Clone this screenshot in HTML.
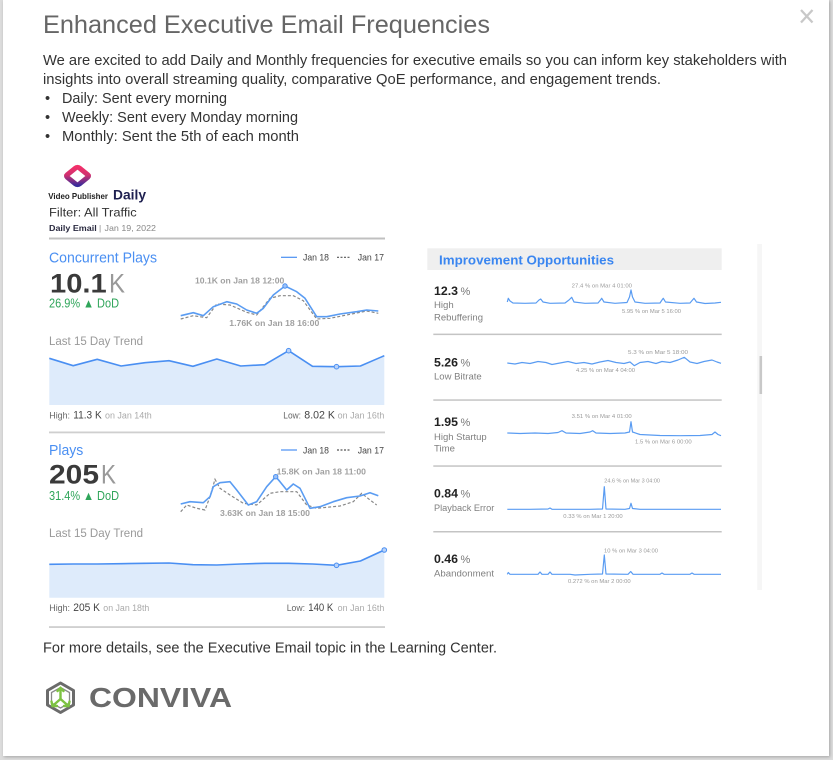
<!DOCTYPE html>
<html><head><meta charset="utf-8"><style>
html,body{margin:0;padding:0;background:#dcdcdc;}
body{width:833px;height:760px;overflow:hidden;position:relative;}
.modal{position:absolute;left:3px;top:0;width:826px;height:756px;background:#fff;box-shadow:1px 1px 3px rgba(0,0,0,0.25);}
svg{position:absolute;left:0;top:0;}
text{font-family:"Liberation Sans",sans-serif;}
</style></head><body>
<div class="modal"></div>
<svg width="833" height="760" viewBox="0 0 833 760" xmlns="http://www.w3.org/2000/svg">
<defs>
<linearGradient id="lg" x1="0" y1="0" x2="1" y2="1">
<stop offset="0" stop-color="#f4306a"/><stop offset="0.45" stop-color="#d0306f"/><stop offset="1" stop-color="#362c9c"/>
</linearGradient>
</defs>
<!-- close X -->
<line x1="801" y1="10" x2="812.5" y2="22.5" stroke="#c8c8c8" stroke-width="2.3"/>
<line x1="812.5" y1="10" x2="801" y2="22.5" stroke="#c8c8c8" stroke-width="2.3"/>

<!-- title / intro -->
<text x="43" y="33" font-size="25" fill="#666" textLength="447" lengthAdjust="spacingAndGlyphs">Enhanced Executive Email Frequencies</text>
<text x="43" y="65" font-size="14.6" fill="#333" textLength="744" lengthAdjust="spacingAndGlyphs">We are excited to add Daily and Monthly frequencies for executive emails so you can inform key stakeholders with</text>
<text x="43" y="84" font-size="14.6" fill="#333" textLength="618" lengthAdjust="spacingAndGlyphs">insights into overall streaming quality, comparative QoE performance, and engagement trends.</text>
<text x="45" y="103" font-size="14.6" fill="#333">•</text>
<text x="62" y="103" font-size="14.6" fill="#333" textLength="165" lengthAdjust="spacingAndGlyphs">Daily: Sent every morning</text>
<text x="45" y="122" font-size="14.6" fill="#333">•</text>
<text x="62" y="122" font-size="14.6" fill="#333" textLength="236" lengthAdjust="spacingAndGlyphs">Weekly: Sent every Monday morning</text>
<text x="45" y="141" font-size="14.6" fill="#333">•</text>
<text x="62" y="141" font-size="14.6" fill="#333" textLength="237" lengthAdjust="spacingAndGlyphs">Monthly: Sent the 5th of each month</text>

<!-- email header -->
<g transform="translate(77.5,176) scale(1,0.82) rotate(45)">
<rect x="-8.3" y="-8.3" width="16.6" height="16.6" rx="2.5" fill="#fff" stroke="url(#lg)" stroke-width="5.6"/>
</g>
<text x="48.3" y="199" font-size="8.5" font-weight="bold" fill="#222" textLength="59.7" lengthAdjust="spacingAndGlyphs">Video Publisher</text>
<text x="113" y="199.3" font-size="14" font-weight="bold" fill="#1e2050" textLength="33" lengthAdjust="spacingAndGlyphs">Daily</text>
<text x="49" y="216.7" font-size="12.3" fill="#333" textLength="87.7" lengthAdjust="spacingAndGlyphs">Filter: All Traffic</text>
<text x="49" y="231" font-size="8.5" font-weight="bold" fill="#2a2a40" textLength="47.7" lengthAdjust="spacingAndGlyphs">Daily Email</text>
<text x="99" y="231" font-size="8.5" fill="#888">|</text>
<text x="104.5" y="231" font-size="8.5" fill="#888" textLength="51.5" lengthAdjust="spacingAndGlyphs">Jan 19, 2022</text>
<rect x="49" y="237.5" width="336" height="2" fill="#c0c0c0"/>

<!-- Concurrent Plays -->
<text x="49" y="262.3" font-size="14.3" fill="#4a8ff2" textLength="108" lengthAdjust="spacingAndGlyphs">Concurrent Plays</text>
<line x1="281" y1="257.3" x2="297" y2="257.3" stroke="#4a8ff2" stroke-width="1.2"/>
<text x="303" y="260.6" font-size="9.3" fill="#444" textLength="26" lengthAdjust="spacingAndGlyphs">Jan 18</text>
<line x1="337" y1="257.3" x2="350" y2="257.3" stroke="#555" stroke-width="1.2" stroke-dasharray="2,1.5"/>
<text x="357.7" y="260.6" font-size="9.3" fill="#444" textLength="26.3" lengthAdjust="spacingAndGlyphs">Jan 17</text>
<text x="50" y="292.3" font-size="27" font-weight="bold" fill="#3a3a3a" textLength="56.7" lengthAdjust="spacingAndGlyphs">10.1</text>
<text x="109" y="292.3" font-size="27" fill="#999" textLength="16" lengthAdjust="spacingAndGlyphs">K</text>
<text x="49" y="307.7" font-size="12.5" fill="#2fa55a" textLength="70" lengthAdjust="spacingAndGlyphs">26.9% ▲ DoD</text>

<polyline fill="none" stroke="#888" stroke-width="1.2" stroke-dasharray="3,2" points="180.7,319 193.3,315.7 206.7,317.7 216.7,304 230,305 246.7,312.3 256.7,315 270,298.3 280,295.7 293.3,295.7 303.3,300.7 316.7,319 330,318.3 346.7,315 366.7,311 378.3,313.3"/>
<polyline fill="none" stroke="#5a9cf2" stroke-width="1.6" stroke-linejoin="round" points="180.7,315.7 193.3,312.7 203.3,315.7 213.3,306.7 226.7,301.7 236.7,304 246.7,310 256.7,313.3 263.3,308.3 273.3,295 285,286 296.7,291.7 305,298.3 316.7,316.7 326.7,316.7 340,314 356.7,311.7 366.7,310 378.3,311"/>
<circle cx="285" cy="286" r="2.2" fill="#9cc2f7" stroke="#4a8ff2" stroke-width="1"/>
<text x="195" y="283.6" font-size="8.5" font-weight="bold" fill="#a0a0a0" textLength="89.3" lengthAdjust="spacingAndGlyphs">10.1K on Jan 18 12:00</text>
<text x="229.3" y="326.2" font-size="8.5" font-weight="bold" fill="#a0a0a0" textLength="90" lengthAdjust="spacingAndGlyphs">1.76K on Jan 18 16:00</text>

<text x="49" y="345" font-size="12.3" fill="#999" textLength="94" lengthAdjust="spacingAndGlyphs">Last 15 Day Trend</text>
<path d="M49.3,358.3 L73.2,365.7 L97.2,359.3 L121.1,366 L145,362.7 L169,360.7 L192.9,366.3 L216.8,359 L240.7,366 L264.7,364.7 L288.6,350.7 L312.5,366.3 L336.5,366.7 L360.4,366 L384.3,355.7 L384.3,405 L49.3,405 Z" fill="#deebfb"/>
<polyline fill="none" stroke="#4a8ff2" stroke-width="1.6" stroke-linejoin="round" points="49.3,358.3 73.2,365.7 97.2,359.3 121.1,366 145,362.7 169,360.7 192.9,366.3 216.8,359 240.7,366 264.7,364.7 288.6,350.7 312.5,366.3 336.5,366.7 360.4,366 384.3,355.7"/>
<circle cx="288.6" cy="350.7" r="2.3" fill="#b9d3fa" stroke="#4a8ff2" stroke-width="1"/>
<circle cx="336.5" cy="366.7" r="2.3" fill="#b9d3fa" stroke="#4a8ff2" stroke-width="1"/>

<text x="49.3" y="418.5" font-size="9.3" fill="#666" textLength="20.7" lengthAdjust="spacingAndGlyphs">High:</text>
<text x="73.3" y="418.5" font-size="11" fill="#444" textLength="28.4" lengthAdjust="spacingAndGlyphs">11.3 K</text>
<text x="105" y="418.5" font-size="8.8" fill="#aaa" textLength="46.7" lengthAdjust="spacingAndGlyphs">on Jan 14th</text>
<text x="283.3" y="418.5" font-size="9.3" fill="#666" textLength="17.7" lengthAdjust="spacingAndGlyphs">Low:</text>
<text x="304.3" y="418.5" font-size="11" fill="#444" textLength="30.7" lengthAdjust="spacingAndGlyphs">8.02 K</text>
<text x="337.7" y="418.5" font-size="8.8" fill="#aaa" textLength="46.6" lengthAdjust="spacingAndGlyphs">on Jan 16th</text>
<rect x="49" y="431.5" width="336" height="1.8" fill="#cfcfcf"/>

<!-- Plays -->
<text x="49" y="455" font-size="14.3" fill="#4a8ff2" textLength="34.3" lengthAdjust="spacingAndGlyphs">Plays</text>
<line x1="281" y1="450" x2="297" y2="450" stroke="#4a8ff2" stroke-width="1.2"/>
<text x="303" y="453.3" font-size="9.3" fill="#444" textLength="26" lengthAdjust="spacingAndGlyphs">Jan 18</text>
<line x1="337" y1="450" x2="350" y2="450" stroke="#555" stroke-width="1.2" stroke-dasharray="2,1.5"/>
<text x="357.7" y="453.3" font-size="9.3" fill="#444" textLength="26.3" lengthAdjust="spacingAndGlyphs">Jan 17</text>
<text x="49" y="483.3" font-size="27" font-weight="bold" fill="#3a3a3a" textLength="50" lengthAdjust="spacingAndGlyphs">205</text>
<text x="101" y="483.3" font-size="27" fill="#999" textLength="15" lengthAdjust="spacingAndGlyphs">K</text>
<text x="49" y="500" font-size="12.5" fill="#2fa55a" textLength="70" lengthAdjust="spacingAndGlyphs">31.4% ▲ DoD</text>

<polyline fill="none" stroke="#888" stroke-width="1.2" stroke-dasharray="3,2" points="180.7,511.7 186.7,505 196.7,508.3 205,510 210,496.7 215,479.3 220,488.3 230,495 243.3,503.3 256.7,505 270,493.3 280,491.7 296.7,491.7 306.7,505 316.7,508.3 340,506 353.3,501.7 361.7,493.3 370,500 376.7,505"/>
<polyline fill="none" stroke="#5a9cf2" stroke-width="1.6" stroke-linejoin="round" points="180.7,504 190,501.7 203.3,502.7 210,496.7 213.3,486.7 220,482.7 230,481.7 236.7,490 248.3,505 256.7,501.7 266.7,486.7 275.7,476.7 280,481.7 286.7,490 293.3,484 300,488.3 310,508.3 320,506.7 333.3,501.7 346.7,497.7 360,496 370,492.7 378.3,495.7"/>
<circle cx="275.7" cy="476.7" r="2.2" fill="#9cc2f7" stroke="#4a8ff2" stroke-width="1"/>
<text x="276.7" y="474.6" font-size="8.5" font-weight="bold" fill="#a0a0a0" textLength="89.3" lengthAdjust="spacingAndGlyphs">15.8K on Jan 18 11:00</text>
<text x="220" y="516.2" font-size="8.5" font-weight="bold" fill="#a0a0a0" textLength="90" lengthAdjust="spacingAndGlyphs">3.63K on Jan 18 15:00</text>

<text x="49" y="537" font-size="12.3" fill="#999" textLength="94" lengthAdjust="spacingAndGlyphs">Last 15 Day Trend</text>
<path d="M49.3,564.3 L73.2,564 L97.2,564 L121.1,563.7 L145,563.3 L169,563 L192.9,564.7 L216.8,565 L240.7,564 L264.7,563.3 L288.6,563.3 L312.5,564 L336.5,565.3 L360.4,561 L384.3,550 L384.3,597.7 L49.3,597.7 Z" fill="#deebfb"/>
<polyline fill="none" stroke="#4a8ff2" stroke-width="1.6" stroke-linejoin="round" points="49.3,564.3 73.2,564 97.2,564 121.1,563.7 145,563.3 169,563 192.9,564.7 216.8,565 240.7,564 264.7,563.3 288.6,563.3 312.5,564 336.5,565.3 360.4,561 384.3,550"/>
<circle cx="336.5" cy="565.3" r="2.3" fill="#b9d3fa" stroke="#4a8ff2" stroke-width="1"/>
<circle cx="384.3" cy="550" r="2.3" fill="#b9d3fa" stroke="#4a8ff2" stroke-width="1"/>

<text x="49.3" y="611" font-size="9.3" fill="#666" textLength="20.7" lengthAdjust="spacingAndGlyphs">High:</text>
<text x="73.3" y="611" font-size="11" fill="#444" textLength="26.7" lengthAdjust="spacingAndGlyphs">205 K</text>
<text x="103.3" y="611" font-size="8.8" fill="#aaa" textLength="46" lengthAdjust="spacingAndGlyphs">on Jan 18th</text>
<text x="286.7" y="611" font-size="9.3" fill="#666" textLength="18.3" lengthAdjust="spacingAndGlyphs">Low:</text>
<text x="308.3" y="611" font-size="11" fill="#444" textLength="25" lengthAdjust="spacingAndGlyphs">140 K</text>
<text x="337.7" y="611" font-size="8.8" fill="#aaa" textLength="46.6" lengthAdjust="spacingAndGlyphs">on Jan 16th</text>
<rect x="49" y="626.3" width="336" height="1.5" fill="#c4c4c4"/>

<!-- Improvement Opportunities panel -->
<rect x="427.3" y="248.3" width="294.4" height="21.7" fill="#efefef"/>
<text x="439" y="264.5" font-size="13" font-weight="bold" fill="#3a86f0" textLength="175" lengthAdjust="spacingAndGlyphs">Improvement Opportunities</text>

<g fill="#222">
<text x="434" y="295" font-size="11.5" font-weight="bold" textLength="24" lengthAdjust="spacingAndGlyphs">12.3</text>
<text x="434" y="366.5" font-size="11.5" font-weight="bold" textLength="24" lengthAdjust="spacingAndGlyphs">5.26</text>
<text x="434" y="426" font-size="11.5" font-weight="bold" textLength="24" lengthAdjust="spacingAndGlyphs">1.95</text>
<text x="434" y="497.5" font-size="11.5" font-weight="bold" textLength="24" lengthAdjust="spacingAndGlyphs">0.84</text>
<text x="434" y="563" font-size="11.5" font-weight="bold" textLength="24" lengthAdjust="spacingAndGlyphs">0.46</text>
</g>
<g fill="#777" font-size="11">
<text x="460.5" y="295">%</text>
<text x="460.5" y="366.5">%</text>
<text x="460.5" y="426">%</text>
<text x="460.5" y="497.5">%</text>
<text x="460.5" y="563">%</text>
</g>
<g fill="#808080" font-size="9.6">
<text x="434" y="308">High</text>
<text x="434" y="320.5" textLength="49" lengthAdjust="spacingAndGlyphs">Rebuffering</text>
<text x="434" y="379.5" textLength="47.7" lengthAdjust="spacingAndGlyphs">Low Bitrate</text>
<text x="434" y="440" textLength="52.7" lengthAdjust="spacingAndGlyphs">High Startup</text>
<text x="434" y="451.5">Time</text>
<text x="434" y="511" textLength="60.3" lengthAdjust="spacingAndGlyphs">Playback Error</text>
<text x="434" y="576.5" textLength="60" lengthAdjust="spacingAndGlyphs">Abandonment</text>
</g>
<g fill="#c4c4c4">
<rect x="433.3" y="333.6" width="288.4" height="1.5"/>
<rect x="433.3" y="399.3" width="288.4" height="1.5"/>
<rect x="433.3" y="465.3" width="288.4" height="1.5"/>
<rect x="433.3" y="531" width="288.4" height="1.5"/>
</g>

<g fill="none" stroke="#5a9cf2" stroke-width="1.2" stroke-linejoin="round">
<polyline points="507.3,302 508.3,298.3 510,301 513,303 525,303.3 536,303 539,300 540.7,299 543,302 550,303.3 565,303 569,300 571.7,297.3 574,302 585,303.3 598,303 600.5,300 601.7,298.3 604,302 615,303.3 627,302.5 629.5,297 631,290 632.5,297 635,302 645,303.3 660,303 662,300 663.3,298.3 665.5,302 680,303.3 690,303 692.5,300 694,298.3 696.5,302 705,303.5 715,303 721,302.3"/>
<polyline points="507.3,363 515,364 522,362.5 530,363.5 538,361.5 546,362.5 552,364.5 560,363 568,361.5 576,363.5 584,362.5 592,364 600,362 608,360.5 616,362.5 624,363.5 630,362 634.3,365.7 640,362.5 648,361.5 656,363.5 662,361.5 670,362.5 678,360 684.3,357.3 690,362 697,363.5 704,361.5 712,360 717,362 721,363.3"/>
<polyline points="507.3,433 520,433.5 535,433 548,433.5 558,432.5 562,430.7 566,433 580,433.5 590,432 592.7,430.7 596,433 610,433.5 625,433 629.5,432 631,421.7 632.5,432 640,434.5 660,435.5 680,435.7 700,435.5 712,434.5 715,432 718,434.5 721,435.7"/>
<polyline points="507.3,509.3 530,509.3 548,509 550,508 552,509.3 575,509.3 590,509.3 602.5,509 604.3,486.7 606,509 625,509.3 629.5,508.5 631,503.3 632.5,508.5 640,509.3 680,509.3 700,509.3 721,509.3"/>
<polyline points="507.3,574.3 508.3,572.5 510,574.3 538,574.3 540,572 542,574.3 548,574.3 550,572 552,574.3 570,574.3 575,575 590,574.3 602.5,574 604.3,555 606,574 628,574.3 630.7,571.5 633,574.3 660,574.3 662,573 664,574.3 690,574.3 692,573 694,574.3 721,574.3"/>
</g>
<g fill="#9a9a9a" font-size="5.6">
<text x="571.7" y="287.6" textLength="60.3" lengthAdjust="spacingAndGlyphs">27.4 % on Mar 4 01:00</text>
<text x="622" y="313" textLength="59" lengthAdjust="spacingAndGlyphs">5.95 % on Mar 5 16:00</text>
<text x="628" y="354.2" textLength="60" lengthAdjust="spacingAndGlyphs">5.3 % on Mar 5 18:00</text>
<text x="576" y="372" textLength="59" lengthAdjust="spacingAndGlyphs">4.25 % on Mar 4 04:00</text>
<text x="571.7" y="418" textLength="60" lengthAdjust="spacingAndGlyphs">3.51 % on Mar 4 01:00</text>
<text x="635" y="443.7" textLength="56.7" lengthAdjust="spacingAndGlyphs">1.5 % on Mar 6 00:00</text>
<text x="604.3" y="482.7" textLength="55.7" lengthAdjust="spacingAndGlyphs">24.6 % on Mar 3 04:00</text>
<text x="563.3" y="518" textLength="59.4" lengthAdjust="spacingAndGlyphs">0.33 % on Mar 1 20:00</text>
<text x="604" y="552.7" textLength="54" lengthAdjust="spacingAndGlyphs">10 % on Mar 3 04:00</text>
<text x="568" y="583" textLength="62.7" lengthAdjust="spacingAndGlyphs">0.272 % on Mar 2 00:00</text>
</g>

<!-- scrollbar -->
<rect x="757.3" y="244" width="4.7" height="346" fill="#f6f6f6"/>
<rect x="759.5" y="356" width="2.6" height="38" fill="#c8c8c8"/>

<!-- footer -->
<text x="43" y="652.3" font-size="14.6" fill="#333" textLength="454" lengthAdjust="spacingAndGlyphs">For more details, see the Executive Email topic in the Learning Center.</text>

<!-- CONVIVA logo -->
<polygon points="60.5,683 73.5,690.5 73.5,705 60.5,712.5 47.5,705 47.5,690.5" fill="none" stroke="#6b6b6b" stroke-width="3" stroke-linejoin="round"/>
<polygon points="60.5,687.5 69.5,692.5 69.5,703 60.5,708 51.5,703 51.5,692.5" fill="none" stroke="#8a8a8a" stroke-width="1.3"/>
<g stroke="#7dc242" stroke-width="2.4" fill="none" stroke-linecap="round">
<line x1="60.5" y1="688" x2="60.5" y2="699"/>
<line x1="60.5" y1="699" x2="52.5" y2="706"/>
<line x1="60.5" y1="699" x2="68.5" y2="706"/>
<polyline points="57.5,691 60.5,688 63.5,691"/>
<polyline points="51.5,701.5 52.5,706 57,706"/>
<polyline points="69.5,701.5 68.5,706 64,706"/>
</g>
<text x="89" y="707" font-size="27.5" font-weight="bold" fill="#6a6a6a" textLength="143" lengthAdjust="spacingAndGlyphs">CONVIVA</text>
</svg>
</body></html>
